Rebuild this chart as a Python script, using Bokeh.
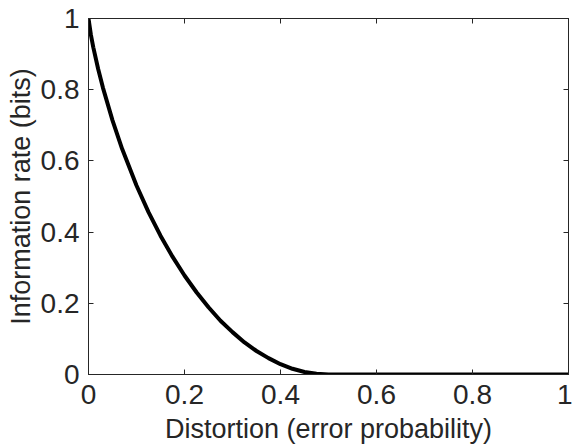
from bokeh.plotting import figure
from bokeh.models import LinearAxis, Range1d, FixedTicker
from bokeh.embed import file_html
from bokeh.resources import INLINE

# Distortion D (error probability) and information rate R(D) in bits
distortion = [0.0, 0.005, 0.01, 0.02, 0.03, 0.05, 0.07, 0.1, 0.125, 0.15, 0.175, 0.2,
              0.225, 0.25, 0.275, 0.3, 0.325, 0.35, 0.375, 0.4, 0.425, 0.45, 0.475,
              0.5, 0.6, 0.7, 0.8, 0.9, 1.0]
rate = [1.0, 0.954, 0.919, 0.859, 0.806, 0.714, 0.634, 0.531, 0.456, 0.390, 0.331, 0.278,
        0.231, 0.189, 0.151, 0.119, 0.090, 0.066, 0.046, 0.029, 0.016, 0.007, 0.002,
        0.0, 0.0, 0.0, 0.0, 0.0, 0.0]
x_ticks = [0, 0.2, 0.4, 0.6, 0.8, 1]
y_ticks = [0, 0.2, 0.4, 0.6, 0.8, 1]

AX = "#262626"
FONT = "Liberation Sans"

p = figure(width=572, height=446, output_backend="svg", toolbar_location=None,
           x_range=Range1d(0, 1), y_range=Range1d(0, 1),
           x_axis_label="Distortion (error probability)",
           y_axis_label="Information rate (bits)",
           min_border_left=88, min_border_right=4, min_border_top=18, min_border_bottom=71)
p.grid.visible = False
p.outline_line_color = AX
p.outline_line_width = 1
p.background_fill_color = "white"
p.border_fill_color = "white"

p.line(distortion, rate, line_color="black", line_width=4)

for ax in [p.xaxis[0], p.yaxis[0]]:
    ax.major_label_text_font = FONT
    ax.major_label_text_font_size = "28px"
    ax.major_label_text_color = AX
    ax.axis_label_text_font = FONT
    ax.axis_label_text_font_size = "27px"
    ax.axis_label_text_font_style = "normal"
    ax.axis_label_text_color = AX
    ax.axis_line_color = AX
    ax.major_tick_line_color = AX
    ax.major_tick_in = 5
    ax.major_tick_out = 0
    ax.minor_tick_line_color = None

p.xaxis[0].major_label_standoff = 10
p.xaxis[0].axis_label_standoff = 7
p.yaxis[0].major_label_standoff = 9
p.yaxis[0].axis_label_standoff = 2

p.xaxis[0].ticker = FixedTicker(ticks=x_ticks)
p.yaxis[0].ticker = FixedTicker(ticks=y_ticks)
p.xaxis[0].major_label_overrides = {0: "0", 1: "1"}
p.yaxis[0].major_label_overrides = {0: "0", 1: "1"}

for loc, t in [("above", x_ticks), ("right", y_ticks)]:
    a = LinearAxis(ticker=FixedTicker(ticks=t))
    a.major_label_text_font_size = "0px"
    a.major_label_text_color = None
    a.major_label_standoff = 0
    a.axis_line_color = AX
    a.major_tick_line_color = AX
    a.major_tick_in = 5
    a.major_tick_out = 0
    a.minor_tick_line_color = None
    p.add_layout(a, loc)

open("out.html", "w").write(file_html(p, INLINE))
